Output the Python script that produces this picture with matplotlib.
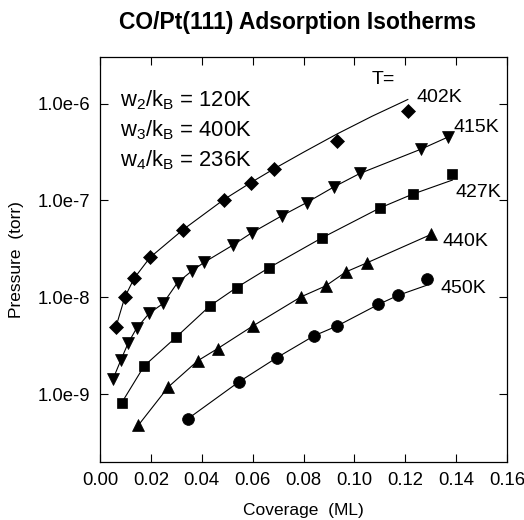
import numpy as np
import matplotlib
matplotlib.use('Agg')
import matplotlib.pyplot as plt

plt.rcParams['font.family'] = ['Liberation Sans', 'DejaVu Sans']
plt.rcParams['mathtext.default'] = 'regular'

# measured isotherm points (coverage in ML, pressure in torr)
x_402 = [0.0062, 0.0098, 0.0135, 0.0197, 0.0327, 0.0487, 0.0592, 0.0683, 0.0930, 0.1212]
p_402 = [4.88e-9, 1.01e-8, 1.58e-8, 2.58e-8, 5.0e-8, 1.02e-7, 1.52e-7, 2.11e-7, 4.11e-7, 8.33e-7]

x_415 = [0.0052, 0.0083, 0.0111, 0.0144, 0.0193, 0.0248, 0.0305, 0.0361, 0.0409,
         0.0522, 0.0596, 0.0714, 0.0813, 0.0920, 0.1022, 0.1262, 0.1369]
p_415 = [1.45e-9, 2.28e-9, 3.38e-9, 4.80e-9, 6.81e-9, 8.63e-9, 1.42e-8, 1.87e-8, 2.29e-8,
         3.45e-8, 4.62e-8, 6.92e-8, 9.51e-8, 1.38e-7, 1.90e-7, 3.38e-7, 4.52e-7]

x_427 = [0.0085, 0.0174, 0.0298, 0.0432, 0.0537, 0.0666, 0.0872, 0.1101, 0.1229, 0.1385]
p_427 = [8.13e-10, 1.96e-9, 3.85e-9, 8.15e-9, 1.26e-8, 2.03e-8, 4.10e-8, 8.37e-8, 1.16e-7, 1.86e-7]

x_440 = [0.0151, 0.0269, 0.0384, 0.0463, 0.0600, 0.0790, 0.0887, 0.0967, 0.1048, 0.1301]
p_440 = [4.79e-10, 1.19e-9, 2.21e-9, 2.96e-9, 5.04e-9, 1.01e-8, 1.31e-8, 1.83e-8, 2.26e-8, 4.45e-8]

x_450 = [0.0347, 0.0546, 0.0695, 0.0841, 0.0933, 0.1094, 0.1173, 0.1284]
p_450 = [5.61e-10, 1.34e-9, 2.38e-9, 4.00e-9, 5.07e-9, 8.43e-9, 1.05e-8, 1.54e-8]

# model curves
fx_402 = [0.0062, 0.0098, 0.0135, 0.0197, 0.0327, 0.0487, 0.0592, 0.0683, 0.0800, 0.0930, 0.1070, 0.1210]
fp_402 = [4.88e-9, 1.01e-8, 1.58e-8, 2.58e-8, 5.0e-8, 1.02e-7, 1.52e-7, 2.11e-7, 3.14e-7, 4.82e-7, 7.4e-7, 1.10e-6]
fx_415 = x_415
fp_415 = p_415
fx_427 = x_427
fp_427 = [8.13e-10, 1.96e-9, 3.85e-9, 8.15e-9, 1.26e-8, 2.03e-8, 4.10e-8, 8.37e-8, 1.16e-7, 1.62e-7]
fx_440 = x_440
fp_440 = p_440
fx_450 = x_450
fp_450 = [5.61e-10, 1.34e-9, 2.38e-9, 4.00e-9, 5.07e-9, 8.43e-9, 1.05e-8, 1.33e-8]

temps = ['402K', '415K', '427K', '440K', '450K']
temp_pos = [(0.1336, 1.15e-6), (0.1481, 5.65e-7), (0.1487, 1.22e-7),
            (0.1435, 3.79e-8), (0.1428, 1.23e-8)]
params = ['w$_2$/k$_B$ = 120K', 'w$_3$/k$_B$ = 400K', 'w$_4$/k$_B$ = 236K']

fig = plt.figure(figsize=(5.24, 5.20), dpi=100)
ax = fig.add_axes([0.1908, 0.1115, 0.7768, 0.7789])

series = [
    (x_402, p_402, fx_402, fp_402, 'D', 7.0),
    (x_415, p_415, fx_415, fp_415, 'v', 8.0),
    (x_427, p_427, fx_427, fp_427, 's', 7.0),
    (x_440, p_440, fx_440, fp_440, '^', 8.0),
    (x_450, p_450, fx_450, fp_450, 'o', 8.5),
]
for xs, ps, fxs, fps, mk, ms in series:
    ax.plot(fxs, fps, color='black', lw=0.8)
    ax.plot(xs, ps, ls='none', marker=mk, ms=ms, color='black', mec='black', mew=0.5)

ax.set_yscale('log')
ax.set_xlim(0, 0.16)
ax.set_ylim(10**-9.70, 10**-5.52)
ax.set_xticks(np.arange(0, 0.161, 0.02))
ax.set_xticklabels(['%.2f' % v for v in np.arange(0, 0.161, 0.02)])
ax.set_yticks([1e-9, 1e-8, 1e-7, 1e-6])
ax.set_yticklabels(['1.0e-9', '1.0e-8', '1.0e-7', '1.0e-6'])
ax.yaxis.set_minor_locator(matplotlib.ticker.NullLocator())
ax.tick_params(which='both', direction='in', top=True, right=True,
               length=6, width=0.8, labelsize=13.3, pad=7)
for s in ax.spines.values():
    s.set_linewidth(0.9)

ax.set_xlabel('Coverage  (ML)', fontsize=12.5)
ax.set_ylabel('Pressure  (torr)', fontsize=12.5)
ax.xaxis.set_label_coords(0.5, -0.102)
ax.yaxis.set_label_coords(-0.187, 0.5)

fig.text(0.568, 0.956, 'CO/Pt(111) Adsorption Isotherms', ha='center', va='center',
         fontsize=16.5, fontweight='bold')

for i, t in enumerate(params):
    ax.text(0.049, [0.877, 0.803, 0.731][i], t, transform=ax.transAxes,
            fontsize=15.8, ha='left', va='baseline')

ax.text(0.1114, 1.77e-6, 'T=', fontsize=14, ha='center', va='center')
for t, (tx, ty) in zip(temps, temp_pos):
    ax.text(tx, ty, t, fontsize=14, ha='center', va='center')

fig.savefig('out.png', dpi=100)
